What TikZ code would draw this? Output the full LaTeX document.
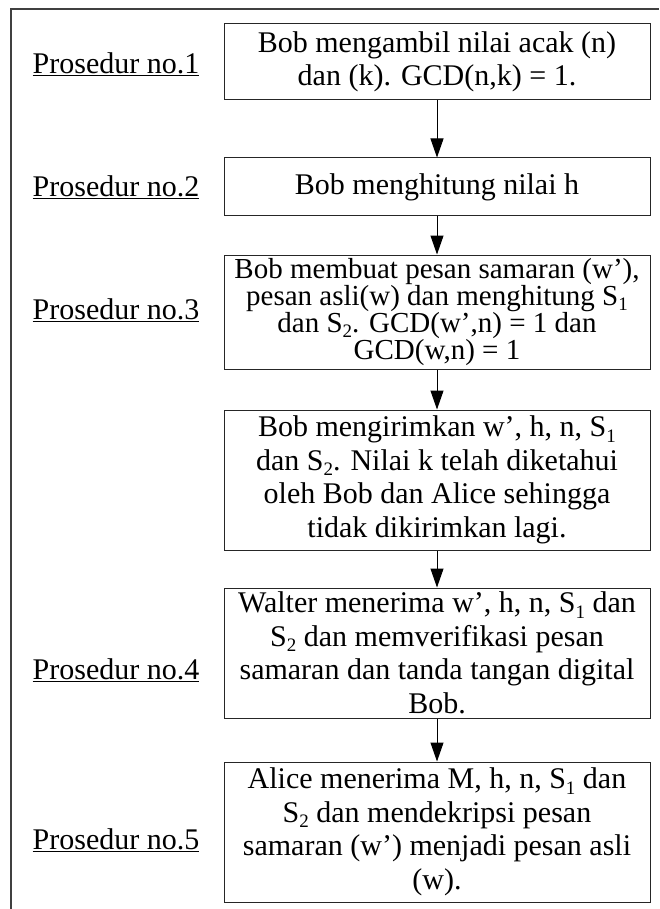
\documentclass[tikz,border=0pt]{standalone}
\usepackage{fontspec}
\setmainfont{Liberation Serif}
\usetikzlibrary{
    arrows.meta,
    positioning
}
\newcommand{\lowidx}[1]{\raisebox{-0.4ex}{\fontsize{19}{19}\selectfont #1}}
\tikzset{proc/.style={draw=black!85, line width=1pt, minimum width=426pt, align=center, inner sep=0pt, font=\fontsize{30}{33.5}\selectfont}}
\tikzset{lbl/.style={inner sep=0pt, font=\fontsize{30}{33.5}\selectfont}}
\tikzset{flow/.style={-{Triangle[length=19pt, width=13pt]}, line width=1pt}}

\begin{document}
\begin{tikzpicture}[x=1pt, y=-1pt]
    \useasboundingbox (0, 0) rectangle (659, 909);
    \draw[line width=1.5pt, black!75] (11, 909) -- (11, 9) -- (659, 9);

    \node[proc, minimum height=76pt] (b1) at (437, 62) {Bob mengambil nilai acak (n)\\dan (k). GCD(n,k) = 1.};
    \node[proc, minimum height=58pt] (b2) at (437, 187) {Bob menghitung nilai h};
    \node[proc, minimum height=114pt, font=\fontsize{29}{27}\selectfont] (b3) at (437, 312) {Bob membuat pesan samaran (w’),\\pesan asli(w) dan menghitung S\lowidx{1}\\dan S\lowidx{2}. GCD(w’,n) = 1 dan\\GCD(w,n) = 1};
    \node[proc, minimum height=140pt] (b4) at (437, 480) {Bob mengirimkan w’, h, n, S\lowidx{1}\\dan S\lowidx{2}. Nilai k telah diketahui\\oleh Bob dan Alice sehingga\\tidak dikirimkan lagi.};
    \node[proc, minimum height=130pt] (b5) at (437, 653) {Walter menerima w’, h, n, S\lowidx{1} dan\\S\lowidx{2} dan memverifikasi pesan\\samaran dan tanda tangan digital\\Bob.};
    \node[proc, minimum height=140pt] (b6) at (437, 832) {Alice menerima M, h, n, S\lowidx{1} dan\\S\lowidx{2} dan mendekripsi pesan\\samaran (w’) menjadi pesan asli\\(w).};

    \node[lbl] (p1) at (116, 64) {\underline{Prosedur no.1}};
    \node[lbl] (p2) at (116, 187) {\underline{Prosedur no.2}};
    \node[lbl] (p3) at (116, 310) {\underline{Prosedur no.3}};
    \node[lbl] (p4) at (116, 670) {\underline{Prosedur no.4}};
    \node[lbl] (p5) at (116, 840) {\underline{Prosedur no.5}};

    \draw
    (b1) edge[flow] (b2)
    (b2) edge[flow] (b3)
    (b3) edge[flow] (b4)
    (b4) edge[flow] (b5)
    (b5) edge[flow] (b6);
\end{tikzpicture}
\end{document}
